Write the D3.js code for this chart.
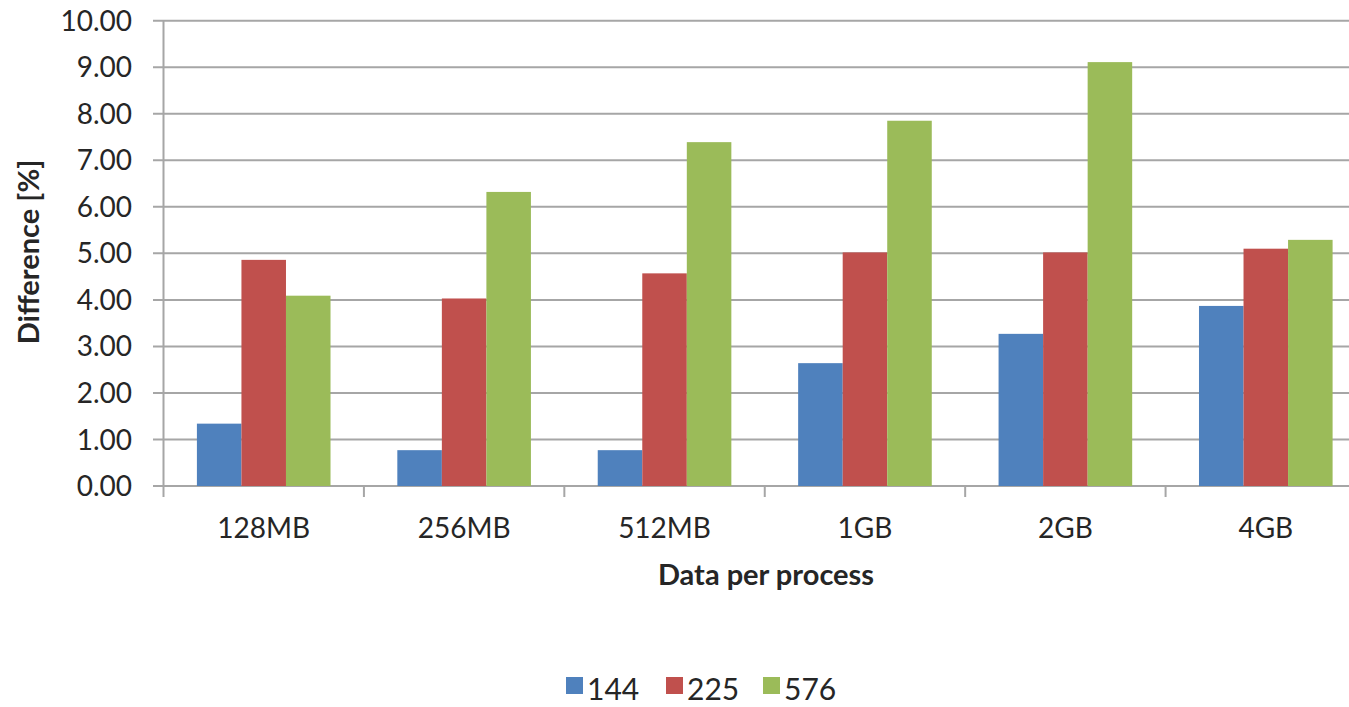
<!DOCTYPE html>
<html lang="en">
<head>
    <meta charset="UTF-8">
    <title>Difference per data size</title>
    <style>
        body {
            margin: 0;
            background-color: #FFFFFF;
            font-family: Lato, "Open Sans", Arial, sans-serif;
        }
        svg text {
            fill: #262626;
        }
    </style>
</head>
<body>
    <div id="chart"></div>

    <script src="https://d3js.org/d3.v7.min.js"></script>
    <script>
        // Chart data
        const categories = ["128MB", "256MB", "512MB", "1GB", "2GB", "4GB"];
        const seriesNames = ["144", "225", "576"];
        const values144 = [1.34, 0.77, 0.77, 2.64, 3.27, 3.87];
        const values225 = [4.86, 4.03, 4.57, 5.02, 5.02, 5.10];
        const values576 = [4.09, 6.32, 7.39, 7.85, 9.11, 5.29];
        const yTicks = [0, 1, 2, 3, 4, 5, 6, 7, 8, 9, 10];
        const colors = ["#4F81BD", "#C0504D", "#9BBB59"];

        const series = [values144, values225, values576];

        const width = 1349;
        const height = 707;

        const svg = d3.select("#chart")
            .append("svg")
            .attr("width", width)
            .attr("height", height);

        // Scales (the plot runs a bit past the right edge, as in the original)
        const x = d3.scaleBand()
            .domain(categories)
            .range([163.5, 1366])
            .padding(0);

        const y = d3.scaleLinear()
            .domain([0, 10])
            .range([486, 20.7]);

        // Bars inside each category: gap of 150% of a bar width
        const barW = x.bandwidth() / 4.5;
        const inner = d3.scaleBand()
            .domain(seriesNames)
            .range([barW * 0.75, barW * 3.75]);

        // Gridlines with the little outside ticks on the left
        svg.append("g")
            .selectAll("line")
            .data(yTicks)
            .join("line")
            .attr("x1", 153)
            .attr("x2", width)
            .attr("y1", d => y(d))
            .attr("y2", d => y(d))
            .attr("stroke", "#A6A6A6")
            .attr("stroke-width", 2);

        // Vertical axis line
        svg.append("line")
            .attr("x1", x.range()[0])
            .attr("x2", x.range()[0])
            .attr("y1", y(10))
            .attr("y2", y(0))
            .attr("stroke", "#A6A6A6")
            .attr("stroke-width", 2);

        // Y tick labels
        svg.append("g")
            .selectAll("text")
            .data(yTicks)
            .join("text")
            .attr("x", 132)
            .attr("y", d => y(d))
            .attr("dy", "0.36em")
            .attr("text-anchor", "end")
            .attr("font-size", "28px")
            .text(d => d.toFixed(2));

        // Category separator ticks below the axis
        const boundaries = categories.map(c => x(c));
        svg.append("g")
            .selectAll("line")
            .data(boundaries)
            .join("line")
            .attr("x1", d => d)
            .attr("x2", d => d)
            .attr("y1", y(0))
            .attr("y2", y(0) + 11)
            .attr("stroke", "#A6A6A6")
            .attr("stroke-width", 2);

        // Bars
        seriesNames.forEach((name, si) => {
            svg.append("g")
                .selectAll("rect")
                .data(series[si])
                .join("rect")
                .attr("x", (d, i) => x(categories[i]) + inner(name))
                .attr("y", d => y(d))
                .attr("width", inner.bandwidth())
                .attr("height", d => y(0) - y(d))
                .attr("fill", colors[si]);
        });

        // Category labels
        svg.append("g")
            .selectAll("text")
            .data(categories)
            .join("text")
            .attr("x", d => x(d) + x.bandwidth() / 2)
            .attr("y", 538)
            .attr("text-anchor", "middle")
            .attr("font-size", "28px")
            .text(d => d);

        // Axis titles
        svg.append("text")
            .attr("x", 766)
            .attr("y", 585)
            .attr("text-anchor", "middle")
            .attr("font-size", "29px")
            .attr("font-weight", "bold")
            .attr("fill", "#000")
            .text("Data per process");

        svg.append("text")
            .attr("transform", "translate(39,252) rotate(-90)")
            .attr("text-anchor", "middle")
            .attr("font-size", "29px")
            .attr("font-weight", "bold")
            .attr("fill", "#000")
            .text("Difference [%]");

        // Legend
        const legendX = [566, 666, 763];
        const legend = svg.append("g");
        seriesNames.forEach((name, si) => {
            legend.append("rect")
                .attr("x", legendX[si])
                .attr("y", 677)
                .attr("width", 17)
                .attr("height", 17)
                .attr("fill", colors[si]);
            legend.append("text")
                .attr("x", legendX[si] + 21)
                .attr("y", 700)
                .attr("font-size", "30px")
                .text(name);
        });
    </script>
</body>
</html>
